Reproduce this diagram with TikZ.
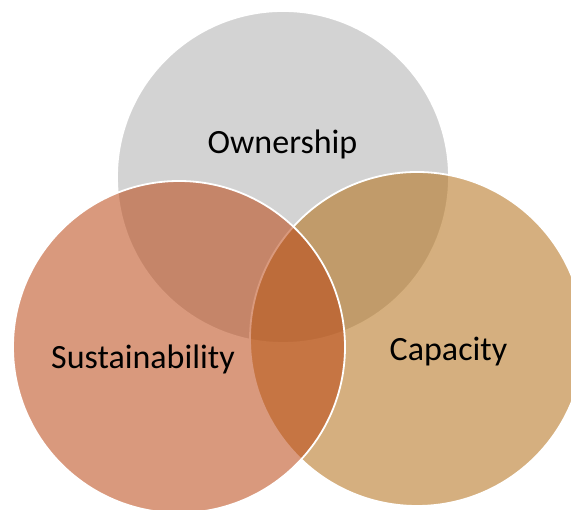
\documentclass[tikz,border=0pt]{standalone}
\usepackage{fontspec}
\setmainfont{Carlito}
\usepackage{xcolor}
\usetikzlibrary{positioning}

\definecolor{owncol}{RGB}{175,175,175}
\definecolor{suscol}{RGB}{186,70,19}
\definecolor{capcol}{RGB}{179,110,21}

\tikzset{
venn/.style={circle, inner sep=0pt, draw=white, line width=1.8pt, fill opacity=0.55},
lab/.style={anchor=base, font=\fontsize{34}{40}\selectfont, text=black},
}

\begin{document}
\begin{tikzpicture}[
x=1pt, y=1pt,
]
\clip (0,0) rectangle (571,510);

% Circles
\node[venn, fill=owncol, minimum size=332pt] (O) at (283,333) {};
\node[venn, fill=capcol, minimum size=334pt] (C) at (417,171) {};
\node[venn, fill=suscol, minimum size=332pt] (S) at (179,163) {};

% Labels
\node[lab] (Olab) at (282.5,356) {Ownership};
\node[lab] (Slab) at (143,141) {Sustainability};
\node[lab] (Clab) at (448.5,149) {Capacity};

\end{tikzpicture}
\end{document}
